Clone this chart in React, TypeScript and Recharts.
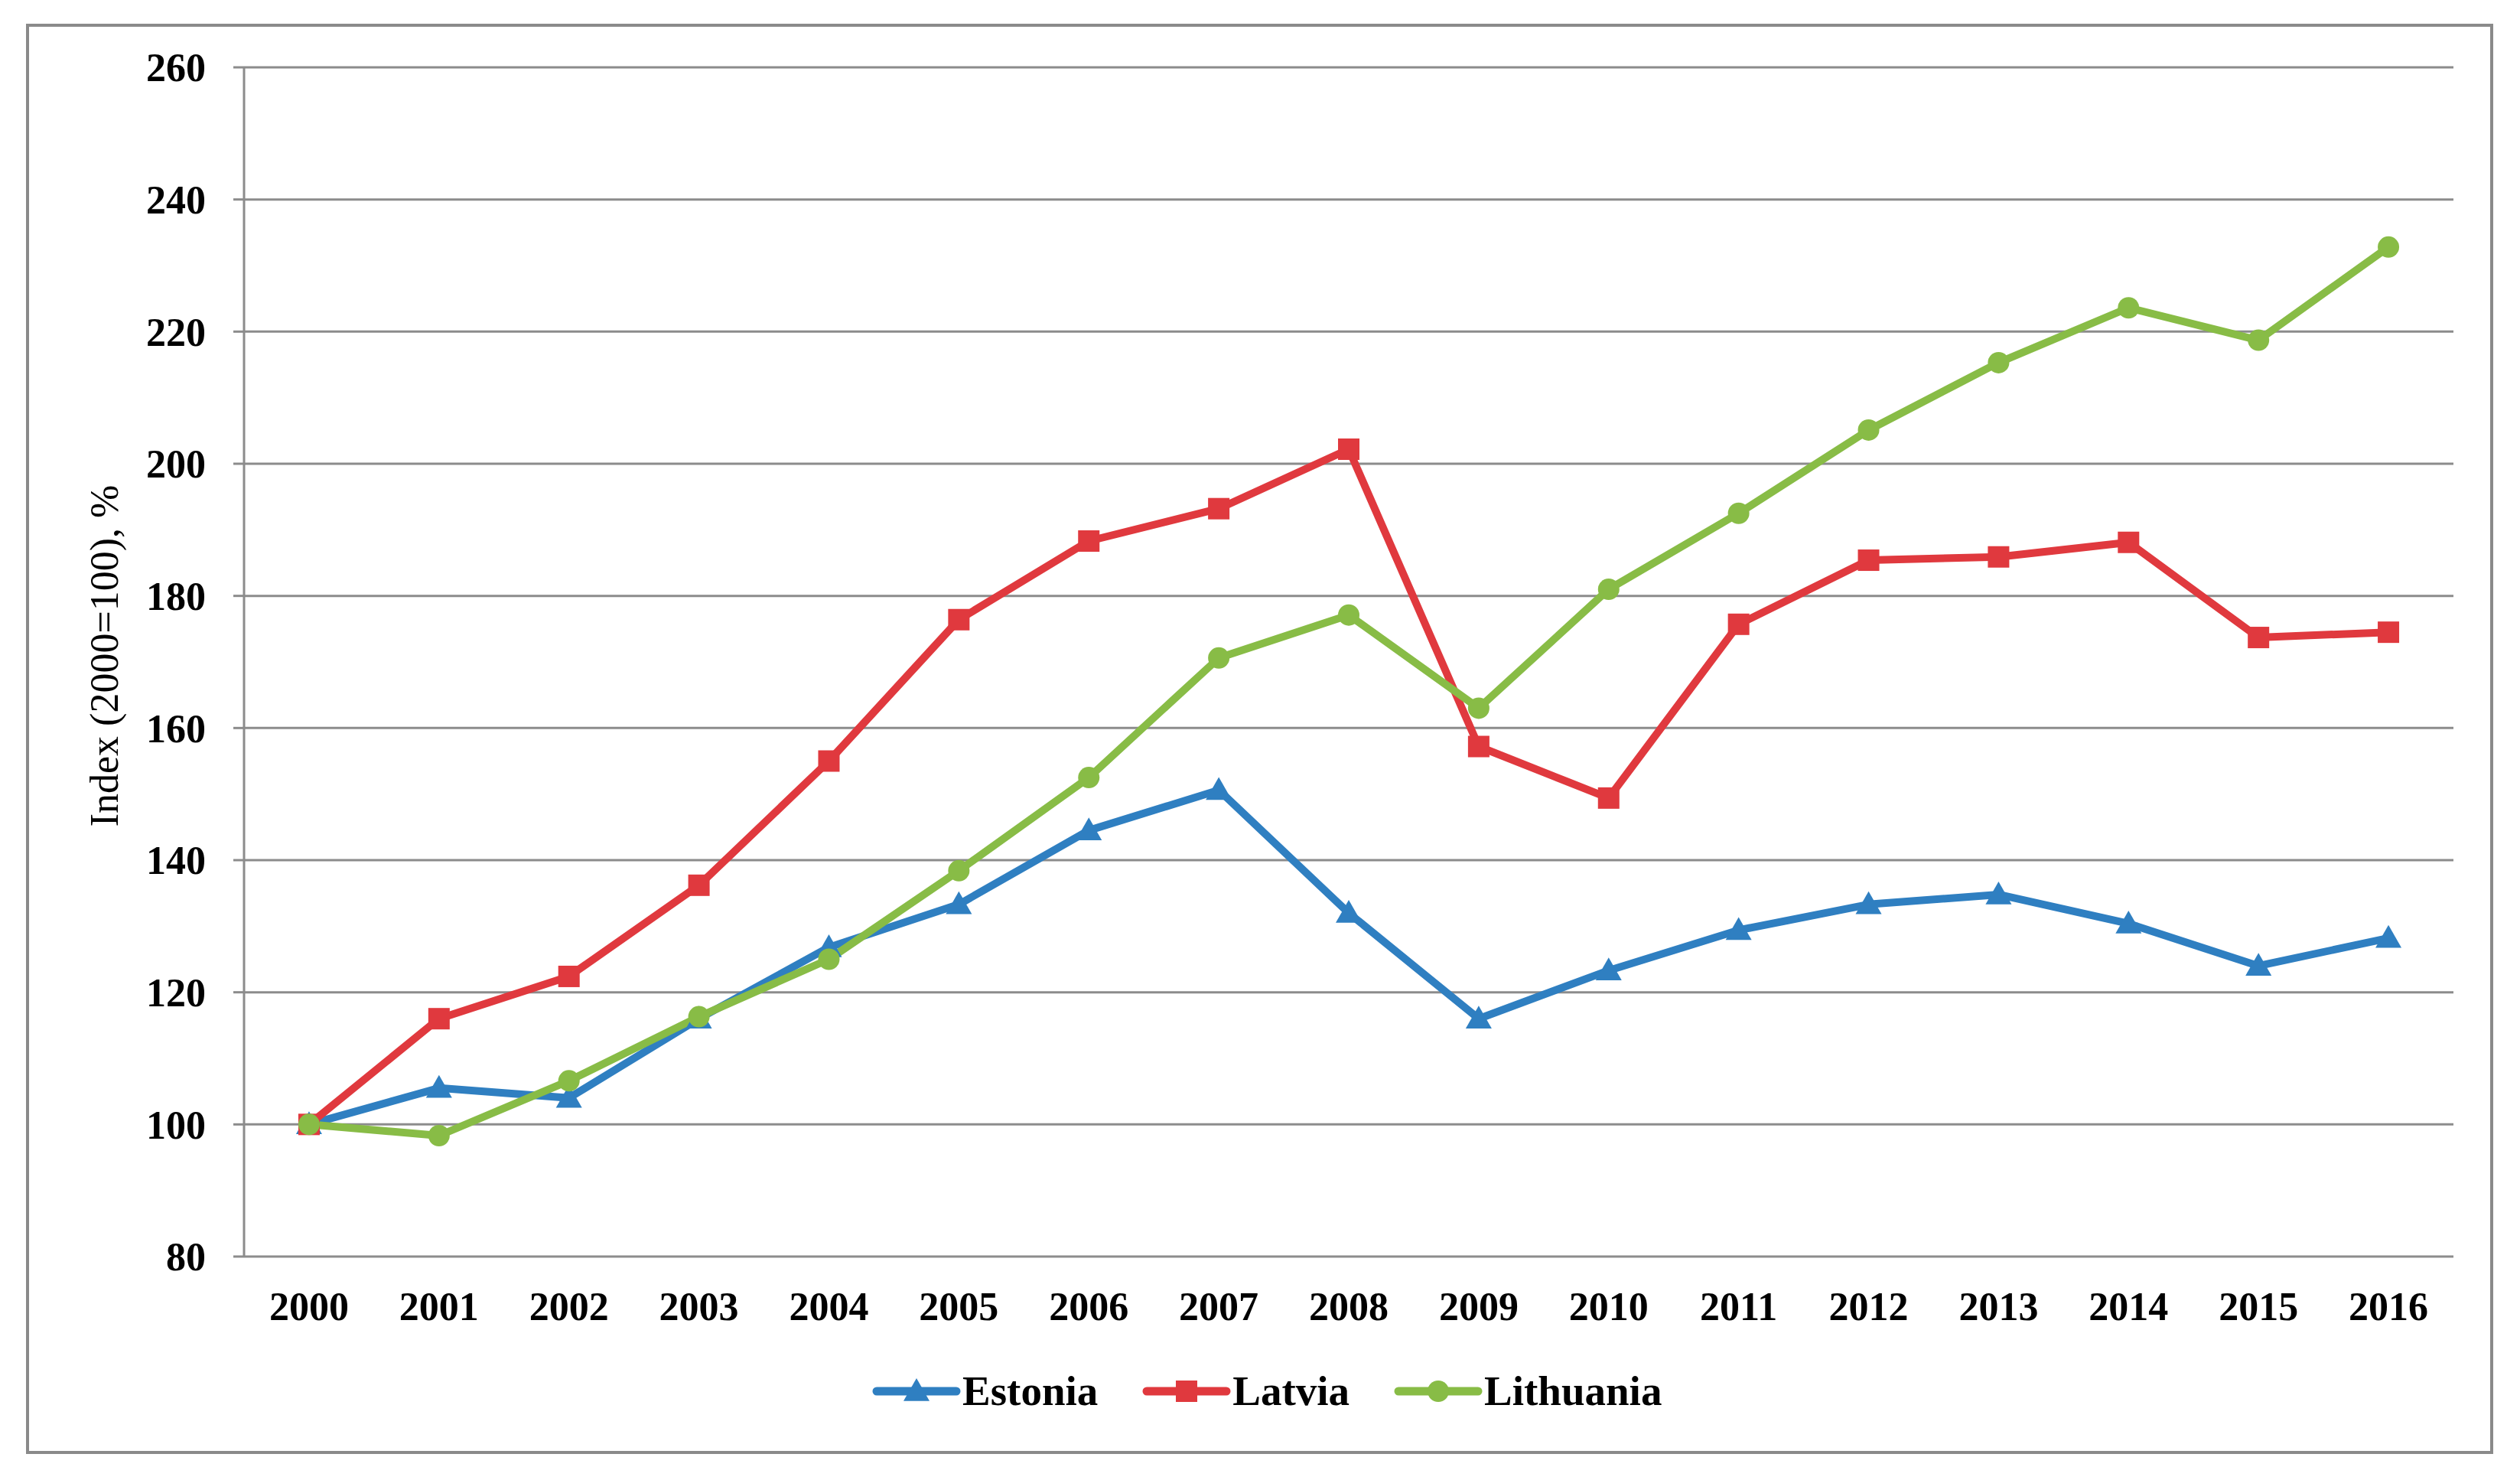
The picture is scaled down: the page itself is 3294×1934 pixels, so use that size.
import { LineChart, Line, XAxis, YAxis, CartesianGrid } from 'recharts';

const YEARS = [
  '2000', '2001', '2002', '2003', '2004', '2005', '2006', '2007', '2008',
  '2009', '2010', '2011', '2012', '2013', '2014', '2015', '2016',
];

const ESTONIA = [100, 105.5, 104, 116, 126.8, 133.3, 144.5, 150.6, 132, 116, 123.3, 129.4, 133.3, 134.8, 130.4, 124, 128.2];
const LATVIA = [100, 116, 122.4, 136.2, 155, 176.4, 188.3, 193.2, 202.2, 157.2, 149.4, 175.7, 185.4, 185.9, 188.1, 173.7, 174.5];
const LITHUANIA = [100, 98.3, 106.6, 116.3, 125, 138.4, 152.5, 170.6, 177.1, 163, 181, 192.5, 205.1, 215.3, 223.6, 218.7, 232.8];

const Y_TICKS = [80, 100, 120, 140, 160, 180, 200, 220, 240, 260];

const SERIES = [
  { key: 'estonia', name: 'Estonia', color: '#2f7fc1', shape: 'triangle' },
  { key: 'latvia', name: 'Latvia', color: '#e0393e', shape: 'square' },
  { key: 'lithuania', name: 'Lithuania', color: '#88bc46', shape: 'circle' },
];

const data = YEARS.map((year, i) => ({
  i,
  year,
  estonia: ESTONIA[i],
  latvia: LATVIA[i],
  lithuania: LITHUANIA[i],
}));

// category boundaries, Excel style tick marks between years
const boundaryTicks = [...YEARS.map((_, i) => i - 0.5), YEARS.length - 0.5];
const labelTicks = YEARS.map((_, i) => i);

const FONT = '"Liberation Serif", "Times New Roman", serif';
const GRID = '#8c8c8c';

function Marker({ cx, cy, shape, color, size = 14 }: any) {
  if (cx == null || cy == null) return null;
  if (shape === 'square') {
    return <rect x={cx - size} y={cy - size} width={size * 2} height={size * 2} fill={color} />;
  }
  if (shape === 'circle') {
    return <circle cx={cx} cy={cy} r={size} fill={color} />;
  }
  const s = size + 3;
  return (
    <polygon
      points={`${cx},${cy - s} ${cx + s},${cy + s * 0.75} ${cx - s},${cy + s * 0.75}`}
      fill={color}
    />
  );
}

function LegendIcon({ shape, color }: any) {
  return (
    <svg width={116} height={44} style={{ display: 'block' }}>
      <line x1={6} y1={22} x2={110} y2={22} stroke={color} strokeWidth={11} strokeLinecap="round" />
      <Marker cx={58} cy={22} shape={shape} color={color} size={14} />
    </svg>
  );
}

export default function App() {
  return (
    <div style={{ position: 'absolute', left: 0, top: 0, width: 3294, height: 1934, background: '#fff' }}>
      <div
        style={{
          position: 'absolute',
          left: 34,
          top: 31,
          width: 3225,
          height: 1869,
          border: '4px solid #8a8a8a',
          boxSizing: 'border-box',
        }}
      />
      <LineChart
        width={3294}
        height={1934}
        data={data}
        margin={{ top: 88, right: 87, bottom: 172, left: 100 }}
      >
        <CartesianGrid xAxisId="ticks" vertical={false} stroke={GRID} strokeWidth={3} />
        <XAxis
          xAxisId="ticks"
          dataKey="i"
          type="number"
          domain={[-0.5, YEARS.length - 0.5]}
          ticks={boundaryTicks}
          tick={false}
          tickSize={18}
          height={0}
          axisLine={{ stroke: GRID, strokeWidth: 3 }}
          tickLine={{ stroke: GRID, strokeWidth: 3 }}
        />
        <XAxis
          xAxisId="labels"
          dataKey="i"
          type="number"
          domain={[-0.5, YEARS.length - 0.5]}
          ticks={labelTicks}
          tickFormatter={(v: number) => YEARS[v]}
          interval={0}
          height={120}
          axisLine={false}
          tickLine={false}
          tickSize={0}
          tickMargin={46}
          tick={{ fill: '#000', fontSize: 52, fontWeight: 700, fontFamily: FONT }}
        />
        <YAxis
          domain={[80, 260]}
          ticks={Y_TICKS}
          interval={0}
          width={219}
          axisLine={{ stroke: GRID, strokeWidth: 3 }}
          tickLine={{ stroke: GRID, strokeWidth: 3 }}
          tickSize={14}
          tickMargin={36}
          tick={{ fill: '#000', fontSize: 52, fontWeight: 700, fontFamily: FONT }}
          label={{
            content: ({ viewBox }: any) => (
              <text
                x={viewBox.x + 36}
                y={viewBox.y + viewBox.height / 2 - 8}
                transform={`rotate(-90 ${viewBox.x + 36} ${viewBox.y + viewBox.height / 2 - 8})`}
                textAnchor="middle"
                dominantBaseline="central"
                fontFamily={FONT}
                fontSize={52}
                fill="#000"
              >
                Index (2000=100), %
              </text>
            ),
          }}
        />
        {SERIES.map((s) => (
          <Line
            key={s.key}
            xAxisId="ticks"
            dataKey={s.key}
            name={s.name}
            stroke={s.color}
            strokeWidth={10}
            strokeLinejoin="round"
            isAnimationActive={false}
            dot={(p: any) => <Marker key={`${s.key}-${p.index}`} cx={p.cx} cy={p.cy} shape={s.shape} color={s.color} />}
            activeDot={false}
          />
        ))}
      </LineChart>

      {/* Legend */}
      <div
        style={{
          position: 'absolute',
          left: 1140,
          top: 1786,
          display: 'flex',
          alignItems: 'center',
          gap: 58,
          fontFamily: FONT,
          fontWeight: 700,
          fontSize: 55,
          color: '#000',
        }}
      >
        {SERIES.map((s) => (
          <div key={s.key} style={{ display: 'flex', alignItems: 'center' }}>
            <LegendIcon shape={s.shape} color={s.color} />
            <span style={{ marginLeft: 2 }}>{s.name}</span>
          </div>
        ))}
      </div>
    </div>
  );
}
